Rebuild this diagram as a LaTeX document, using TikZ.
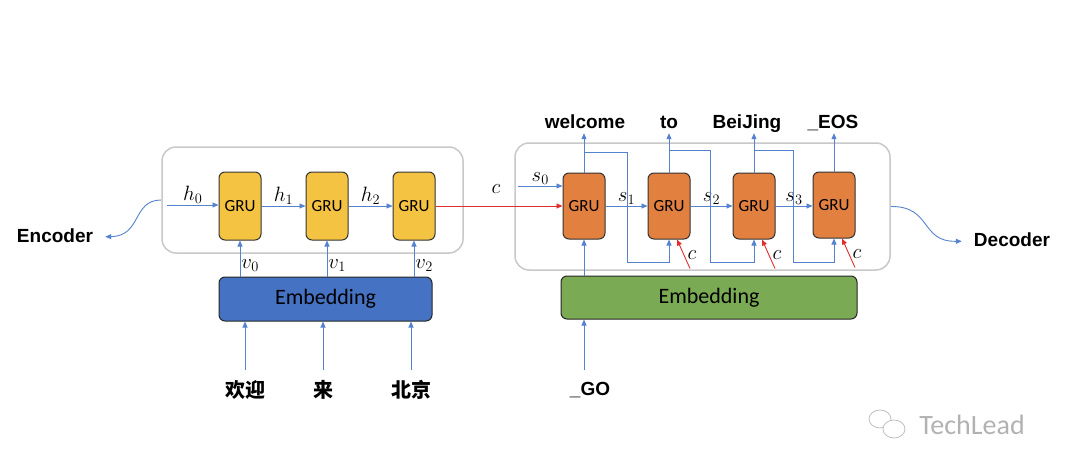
\documentclass[tikz,border=0pt]{standalone}
\usepackage{fontspec}
\setmainfont{Carlito}
\newfontfamily\labelfont{Liberation Sans}
\newfontfamily\cjkfont{Noto Sans CJK SC}
\definecolor{colorEncGru}{RGB}{245,195,66}
\definecolor{colorDecGru}{RGB}{226,128,64}
\definecolor{colorEncEmb}{RGB}{70,114,196}
\definecolor{colorDecEmb}{RGB}{122,170,84}
\definecolor{colorFlow}{RGB}{84,130,207}
\definecolor{colorCtx}{RGB}{225,45,45}
\definecolor{colorFrame}{RGB}{200,200,200}
\usetikzlibrary{arrows.meta, positioning}
\tikzset{gru/.style={draw=black!80, line width=1pt, rounded corners=6pt, minimum width=42pt, minimum height=68pt, inner sep=0pt, font=\fontsize{17}{17}\selectfont},
embed/.style={draw=black!85, line width=1pt, rounded corners=6pt, inner sep=0pt, font=\fontsize{22}{22}\selectfont},
frame/.style={draw=colorFrame, line width=1.5pt, rounded corners=14pt, inner sep=0pt},
word/.style={font=\labelfont\bfseries\fontsize{19}{19}\selectfont, text height=14pt, text depth=4pt, inner sep=1pt},
hanzi/.style={font=\cjkfont\bfseries\fontsize{20}{20}\selectfont, inner sep=1pt},
lbl/.style={font=\fontsize{21}{21}\selectfont, text=black, inner sep=1pt},
flow/.style={->, draw=colorFlow, line width=0.9pt},
ctx/.style={->, draw=colorCtx, line width=0.9pt}}
\begin{document}
\begin{tikzpicture}[x=1pt, y=-1pt, >={Triangle[length=6pt, width=5pt]}, node distance=44pt]
\useasboundingbox (0,0) rectangle (1080,471);
\node[frame, minimum width=301pt, minimum height=106pt] (encFrame) at (312.5,200) {};
\node[frame, minimum width=375pt, minimum height=127pt] (decFrame) at (702.5,206.5) {};
\node[gru, fill=colorEncGru] (enc0) at (240,206) {GRU};
\node[gru, fill=colorEncGru, right=of enc0] (enc1) {GRU};
\node[gru, fill=colorEncGru, right=of enc1] (enc2) {GRU};
\node[gru, fill=colorDecGru, minimum height=66pt] (dec0) at (584,206) {GRU};
\node[gru, fill=colorDecGru, minimum height=66pt] (dec1) at (669,206) {GRU};
\node[gru, fill=colorDecGru, minimum height=66pt] (dec2) at (754,206) {GRU};
\node[gru, fill=colorDecGru, minimum height=66pt] (dec3) at (834,205) {GRU};
\node[embed, fill=colorEncEmb, minimum width=213pt, minimum height=44pt] (encEmb) at (325.5,299) {Embedding};
\node[embed, fill=colorDecEmb, minimum width=296pt, minimum height=43pt] (decEmb) at (709,297.5) {Embedding};
\node[hanzi] (src0) at (245,390) {欢迎};
\node[hanzi] (src1) at (323,390) {来};
\node[hanzi] (src2) at (411,390) {北京};
\node[word] (go) at (590,390) {\_GO};
\node[word] (out0) at (585,123) {welcome};
\node[word] (out1) at (669,123) {to};
\node[word] (out2) at (747,123) {BeiJing};
\node[word] (out3) at (833,123) {\_EOS};
\node[word] (encLabel) at (55,237) {Encoder};
\node[word] (decLabel) at (1012,241) {Decoder};
\node[lbl] (ctxLabel) at (496,189) {$c$};
\coordinate (hIn) at (167,205);
\coordinate (sIn) at (518,186);
\draw[flow] (hIn) -- node[lbl, above]{$h_0$} (hIn -| enc0.west);
\draw[flow] (enc0) -- node[lbl, above]{$h_1$} (enc1);
\draw[flow] (enc1) -- node[lbl, above]{$h_2$} (enc2);
\foreach \i in {0,1,2} {
\draw[flow] (enc\i |- encEmb.north) -- node[lbl, right, pos=0.3]{$v_\i$} (enc\i.south);
\draw[flow, shorten <=9pt] (src\i.north) -- (src\i |- encEmb.south);
}
\draw[ctx] (enc2) -- (dec0);
\draw[flow] (sIn) -- node[lbl, above]{$s_0$} (sIn -| dec0.west);
\draw[flow] (dec0) -- node[lbl, above]{$s_1$} (dec1);
\draw[flow] (dec1) -- node[lbl, above]{$s_2$} (dec2);
\draw[flow] (dec2) -- node[lbl, above]{$s_3$} (dec2 -| dec3.west);
\foreach \i in {0,1,2,3}
\draw[flow] (dec\i.north) -- (dec\i.north |- out\i.south);
\foreach \i/\j/\x/\y in {0/1/627/152, 1/2/710/150, 2/3/793/150}
\draw[flow] (dec\i.north |- 0,\y) -| (\x,262) -| (dec\j.south);
\foreach \j in {1,2,3}
\draw[ctx] ([xshift=21pt, yshift=-29pt]dec\j.south) -- node[lbl, right=2pt, pos=0.45]{$c$} ([xshift=8pt]dec\j.south);
\draw[flow] (dec0 |- decEmb.north) -- (dec0.south);
\draw[flow, shorten <=10pt] (go.north -| dec0) -- (dec0 |- decEmb.south);
\draw[flow, shorten >=11pt] (encFrame.west) .. controls (132,200) and (142,236) .. (encLabel.east);
\draw[flow, shorten >=11pt] (decFrame.east) .. controls (932,206) and (920,242) .. (decLabel.west);
\draw[black!25, line width=0.8pt, fill=white] (880,419) ellipse (11 and 9);
\draw[black!25, line width=0.8pt, fill=white] (894,429) ellipse (11 and 9);
\node[font=\fontsize{28}{28}\selectfont, text=black!30] (mark) at (972,425) {TechLead};
\end{tikzpicture}
\end{document}
